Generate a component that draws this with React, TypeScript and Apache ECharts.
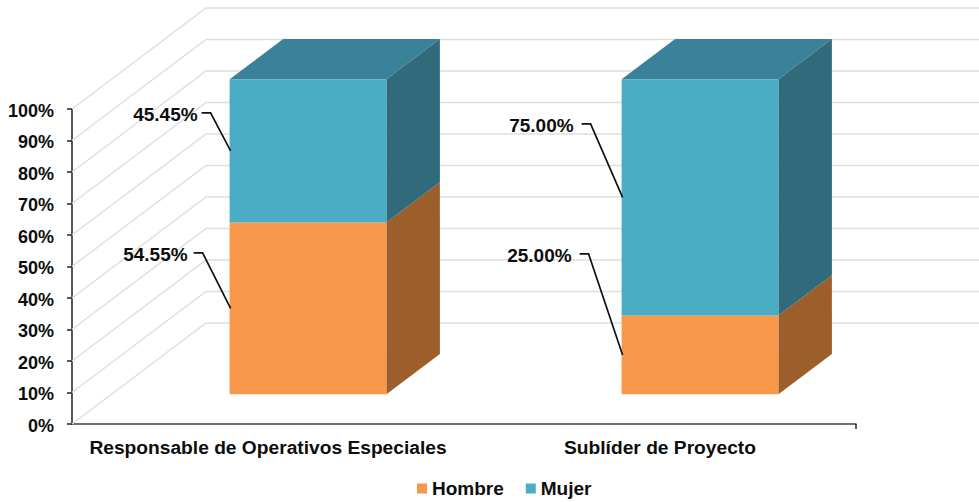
import React, { useEffect, useRef } from "react";
import * as echarts from "echarts";

const categories = ["Responsable de Operativos Especiales", "Sublíder de Proyecto"];
const hombre = [54.55, 25.0];
const mujer = [45.45, 75.0];
const yTicks = [0, 10, 20, 30, 40, 50, 60, 70, 80, 90, 100];

const W = 979;
const H = 502;
const FONT = '"Liberation Sans", Arial, sans-serif';
const TEXT = "#0d0d0d";
// oblique projection of the Excel-like 3D chart
const WALL = [134, -101];
const FRONT = [40, -29.7];
const DEPTH = [53.5, -40.3];
const BAR_RATIO = 0.4;

const hombreColors = { front: "#F9974A", side: "#9C5F2C", top: "#B9753A" };
const mujerColors = { front: "#4BACC6", side: "#316B7B", top: "#39829A" };

// leader elbow relative to the segment's mid-left anchor, plus the text gap, per category
const hombreLeader = [[-28, -55.5, 15], [-34, -101, 17]];
const mujerLeader = [[-20, -38, 13], [-32, -73.5, 17]];

function boxRenderer(colors: any, leaders: number[][], hasTop: boolean) {
  return (params: any, api: any) => {
    const cat = api.value(0);
    const from = api.value(1);
    const to = api.value(2);
    const bw = api.size([1, 0])[0] * BAR_RATIO;
    const low = api.coord([cat, from]);
    const high = api.coord([cat, to]);
    const mid = api.coord([cat, (from + to) / 2]);
    const x0 = low[0] - bw / 2 + FRONT[0];
    const x1 = x0 + bw;
    const yb = low[1] + FRONT[1];
    const yt = high[1] + FRONT[1];
    const ax = x0 + 1;
    const ay = mid[1] + FRONT[1];
    const leader = leaders[params.dataIndex];
    const ex = ax + leader[0];
    const ey = ay + leader[1];
    const children: any[] = [
      {
        type: "polygon",
        shape: { points: [[x1, yb], [x1 + DEPTH[0], yb + DEPTH[1]], [x1 + DEPTH[0], yt + DEPTH[1]], [x1, yt]] },
        style: { fill: colors.side },
      },
      {
        type: "rect",
        shape: { x: x0, y: yt, width: bw, height: yb - yt },
        style: { fill: colors.front },
      },
      {
        type: "polyline",
        shape: { points: [[ex - 9, ey], [ex, ey], [ax, ay]] },
        style: { stroke: "#111", lineWidth: 1.7, fill: "none" },
      },
      {
        type: "text",
        x: ex - leader[2],
        y: ey + 2,
        style: {
          text: api.value(3).toFixed(2) + "%",
          align: "right",
          verticalAlign: "middle",
          fill: TEXT,
          font: `bold 19px ${FONT}`,
        },
      },
    ];
    if (hasTop) {
      children.unshift({
        type: "polygon",
        shape: { points: [[x0, yt], [x1, yt], [x1 + DEPTH[0], yt + DEPTH[1]], [x0 + DEPTH[0], yt + DEPTH[1]]] },
        style: { fill: colors.top },
      });
    }
    return { type: "group", children };
  };
}

export default function App() {
  const ref = useRef<HTMLDivElement>(null);
  useEffect(() => {
    const chart = echarts.init(ref.current!, null, { renderer: "svg" });
    chart.setOption({
      animation: false,
      backgroundColor: "#fff",
      grid: { left: 72, right: W - 856, top: 109, bottom: H - 424 },
      legend: {
        left: 412,
        top: 474,
        icon: "rect",
        itemWidth: 10,
        itemHeight: 10,
        itemGap: 22,
        textStyle: { fontFamily: FONT, fontWeight: "bold", fontSize: 19, color: TEXT },
        data: ["Hombre", "Mujer"],
      },
      xAxis: {
        type: "category",
        data: categories,
        axisLine: { lineStyle: { color: "#404040", width: 1.5 } },
        axisTick: { alignWithLabel: true, length: 5, lineStyle: { color: "#222", width: 1.5 } },
        axisLabel: { interval: 0, margin: 14, fontFamily: FONT, fontWeight: "bold", fontSize: 19.2, color: TEXT },
        splitLine: { show: false },
      },
      yAxis: {
        type: "value",
        min: 0,
        max: 100,
        interval: 10,
        axisLine: { show: true, lineStyle: { color: "#222", width: 1.5 } },
        axisTick: { show: true, length: 5, lineStyle: { color: "#222", width: 1.5 } },
        axisLabel: { margin: 18, verticalAlign: "top", lineHeight: 3, fontFamily: FONT, fontWeight: "bold", fontSize: 18, color: TEXT, formatter: "{value}%" },
        splitLine: { show: false },
      },
      series: [
        {
          type: "custom",
          name: "walls",
          silent: true,
          z: 1,
          coordinateSystem: "cartesian2d",
          data: yTicks.map((v) => [0, v]),
          encode: { x: 0, y: 1 },
          renderItem: (params: any, api: any) => {
            const left = params.coordSys.x;
            const y = api.coord([0, api.value(1)])[1];
            return {
              type: "polyline",
              shape: { points: [[left, y], [left + WALL[0], y + WALL[1]], [W, y + WALL[1]]] },
              style: { stroke: "#dedede", lineWidth: 1.4, fill: "none" },
            };
          },
        },
        {
          type: "custom",
          name: "axisEnd",
          silent: true,
          z: 3,
          coordinateSystem: "cartesian2d",
          data: [[1, 0]],
          encode: { x: 0, y: 1 },
          renderItem: (params: any, api: any) => {
            const right = params.coordSys.x + params.coordSys.width;
            const y = api.coord([1, 0])[1];
            return {
              type: "line",
              shape: { x1: right, y1: y, x2: right, y2: y + 5 },
              style: { stroke: "#222", lineWidth: 1.5 },
            };
          },
        },
        {
          type: "custom",
          name: "Hombre",
          z: 4,
          coordinateSystem: "cartesian2d",
          itemStyle: { color: hombreColors.front },
          data: hombre.map((v, i) => [i, 0, v, v]),
          encode: { x: 0, y: [1, 2] },
          renderItem: boxRenderer(hombreColors, hombreLeader, false),
        },
        {
          type: "custom",
          name: "Mujer",
          z: 5,
          coordinateSystem: "cartesian2d",
          itemStyle: { color: mujerColors.front },
          data: mujer.map((v, i) => [i, hombre[i], hombre[i] + v, v]),
          encode: { x: 0, y: [1, 2] },
          renderItem: boxRenderer(mujerColors, mujerLeader, true),
        },
      ],
    });
    return () => chart.dispose();
  }, []);
  return <div ref={ref} style={{ position: "fixed", left: 0, top: 0, width: W, height: H }} />;
}
